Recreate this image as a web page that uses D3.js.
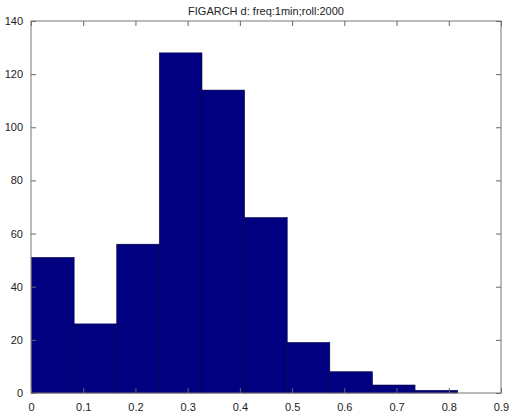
<!DOCTYPE html>
<html lang="en">
<meta charset="utf-8">
<style type="text/css">
  body { margin: 0; background: #fff; }
  svg { display: block; }
  .tick text { font-family: "Liberation Sans", Arial, sans-serif; font-size: 11px; fill: #222; }
  .title { font-family: "Liberation Sans", Arial, sans-serif; font-size: 11px; fill: #222; }
</style>
<body>
<script src="https://d3js.org/d3.v7.min.js"></script>
<script>
// histogram bins (edges) and counts
var binEdges = [0.001, 0.0826, 0.1642, 0.2458, 0.3274, 0.409, 0.4906, 0.5722, 0.6538, 0.7354, 0.817];
var counts = [51, 26, 56, 128, 114, 66, 19, 8, 3, 1];
var xTicks = [0, 0.1, 0.2, 0.3, 0.4, 0.5, 0.6, 0.7, 0.8, 0.9];
var yTicks = [0, 20, 40, 60, 80, 100, 120, 140];
var title = "FIGARCH d: freq:1min;roll:2000";

var width = 511, height = 412;
var margin = {left: 31, right: 10, top: 21, bottom: 19};

var svg = d3.select("body").append("svg")
    .attr("width", width)
    .attr("height", height);

var x = d3.scaleLinear().domain([0, 0.9]).range([margin.left, width - margin.right]);
var y = d3.scaleLinear().domain([0, 140]).range([height - margin.bottom, margin.top]);

var bins = counts.map(function (c, i) {
    return {x0: binEdges[i], x1: binEdges[i + 1], n: c};
});

svg.append("g").selectAll("rect")
    .data(bins)
    .enter().append("rect")
    .attr("x", function (d) { return x(d.x0); })
    .attr("y", function (d) { return y(d.n); })
    .attr("width", function (d) { return x(d.x1) - x(d.x0); })
    .attr("height", function (d) { return y(0) - y(d.n); })
    .attr("fill", "#000080")
    .attr("stroke", "#000040")
    .attr("stroke-width", 0.6);

// axes, ticks inside, MATLAB style
function styleAxis(g) {
    g.select(".domain").remove();
    g.selectAll(".tick line").attr("stroke", "#666");
}

var xb = svg.append("g")
    .attr("transform", "translate(0," + y(0) + ")")
    .call(d3.axisBottom(x).tickValues(xTicks).tickSize(-5).tickPadding(10)
        .tickFormat(function (d) { return d === 0 ? "0" : d3.format(".1f")(d); }));
styleAxis(xb);

var xt = svg.append("g")
    .attr("transform", "translate(0," + y(140) + ")")
    .call(d3.axisTop(x).tickValues(xTicks).tickSize(-5).tickFormat(""));
styleAxis(xt);

var yl = svg.append("g")
    .attr("transform", "translate(" + x(0) + ",0)")
    .call(d3.axisLeft(y).tickValues(yTicks).tickSize(-5).tickPadding(8));
styleAxis(yl);

var yr = svg.append("g")
    .attr("transform", "translate(" + x(0.9) + ",0)")
    .call(d3.axisRight(y).tickValues(yTicks).tickSize(-5).tickFormat(""));
styleAxis(yr);

svg.append("rect")
    .attr("x", x(0))
    .attr("y", y(140))
    .attr("width", x(0.9) - x(0))
    .attr("height", y(0) - y(140))
    .attr("fill", "none")
    .attr("stroke", "#777")
    .attr("stroke-width", 1);

svg.append("text")
    .attr("class", "title")
    .attr("x", (x(0) + x(0.9)) / 2)
    .attr("y", 15)
    .attr("text-anchor", "middle")
    .text(title);
</script>
</body>
</html>
